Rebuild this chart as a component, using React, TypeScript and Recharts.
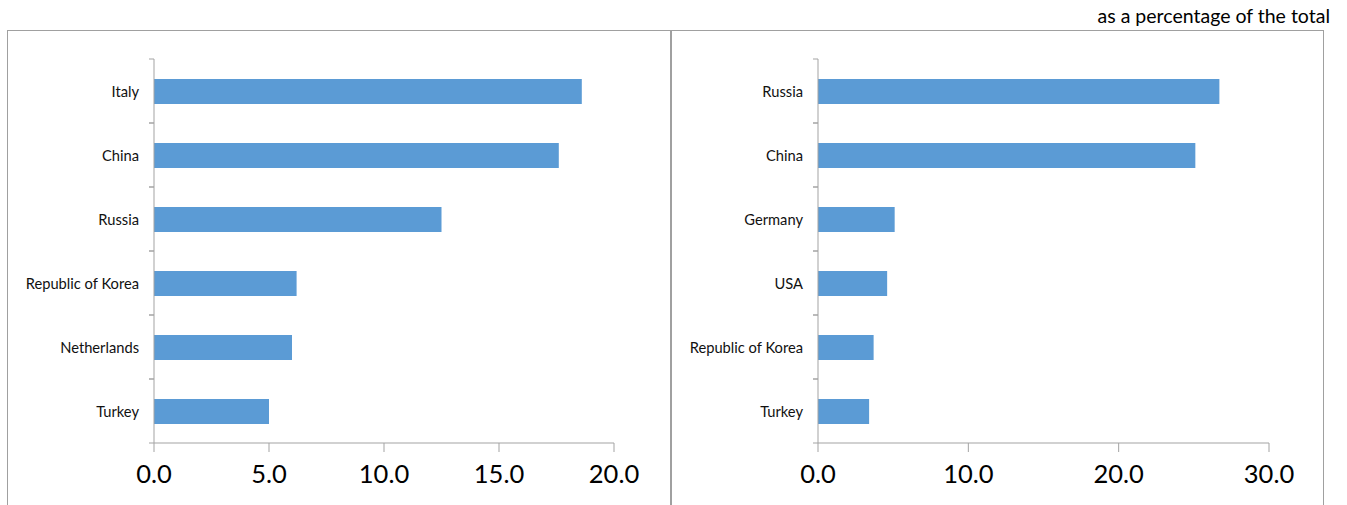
import { BarChart, Bar, XAxis, YAxis } from "recharts";

// left panel
const leftCountries = ["Italy", "China", "Russia", "Republic of Korea", "Netherlands", "Turkey"];
const leftValues = [18.6, 17.6, 12.5, 6.2, 6.0, 5.0];
const leftTicks = [0, 5, 10, 15, 20];

// right panel
const rightCountries = ["Russia", "China", "Germany", "USA", "Republic of Korea", "Turkey"];
const rightValues = [26.7, 25.1, 5.1, 4.6, 3.7, 3.4];
const rightTicks = [0, 10, 20, 30];

const unitNote = "as a percentage of the total";

const FONT = "Lato, Carlito, Calibri, sans-serif";
const AXIS = "#a3a3a3";
const BAR = "#5b9bd5";
const PLOT_TOP = 28;
const PLOT_H = 384;
const CHART_H = 470;

function CategoryTick(props: any) {
  const { x, y, payload, count } = props;
  const band = PLOT_H / count;
  return (
    <g>
      <text
        x={x - 15}
        y={y}
        textAnchor="end"
        dominantBaseline="central"
        fontSize={14.7}
        fontFamily={FONT}
        fill="#111"
      >
        {payload.value}
      </text>
      <line x1={x - 5} x2={x} y1={y - band / 2} y2={y - band / 2} stroke={AXIS} />
      <line x1={x - 5} x2={x} y1={y + band / 2} y2={y + band / 2} stroke={AXIS} />
    </g>
  );
}

function Panel({
  names,
  values,
  ticks,
  width,
}: {
  names: string[];
  values: number[];
  ticks: number[];
  width: number;
}) {
  const data = names.map((name, i) => ({ name, value: values[i] }));
  return (
    <BarChart
      width={width}
      height={CHART_H}
      data={data}
      layout="vertical"
      barCategoryGap="61%"
      margin={{ top: PLOT_TOP, right: 54, bottom: CHART_H - PLOT_TOP - PLOT_H - 40, left: 0 }}
    >
      <XAxis
        type="number"
        domain={[ticks[0], ticks[ticks.length - 1]]}
        ticks={ticks}
        tickFormatter={(v: number) => v.toFixed(1)}
        height={40}
        stroke={AXIS}
        tickSize={9}
        tickMargin={13}
        tick={{ fontSize: 25.5, fontFamily: FONT, fill: "#000" }}
        interval={0}
      />
      <YAxis
        type="category"
        dataKey="name"
        width={146}
        stroke={AXIS}
        tickLine={false}
        tickSize={0}
        tickMargin={0}
        interval={0}
        tick={<CategoryTick count={names.length} />}
      />
      <Bar dataKey="value" fill={BAR} barSize={25} isAnimationActive={false} />
    </BarChart>
  );
}

export default function App() {
  return (
    <div
      style={{
        position: "absolute",
        left: 0,
        top: 0,
        width: 1347,
        height: 505,
        overflow: "hidden",
        background: "#fff",
        fontFamily: FONT,
      }}
    >
      <div
        style={{
          position: "absolute",
          right: 17,
          top: 5,
          fontSize: 19.5,
          lineHeight: "22px",
          color: "#000",
          whiteSpace: "nowrap",
        }}
      >
        {unitNote}
      </div>
      <div
        style={{
          position: "absolute",
          left: 7,
          top: 30,
          width: 662,
          height: 480,
          border: "1px solid #a0a0a0",
          borderBottom: "none",
        }}
      >
        <Panel names={leftCountries} values={leftValues} ticks={leftTicks} width={660} />
      </div>
      <div
        style={{
          position: "absolute",
          left: 671,
          top: 30,
          width: 651,
          height: 480,
          border: "1px solid #a0a0a0",
          borderBottom: "none",
        }}
      >
        <Panel names={rightCountries} values={rightValues} ticks={rightTicks} width={651} />
      </div>
    </div>
  );
}
